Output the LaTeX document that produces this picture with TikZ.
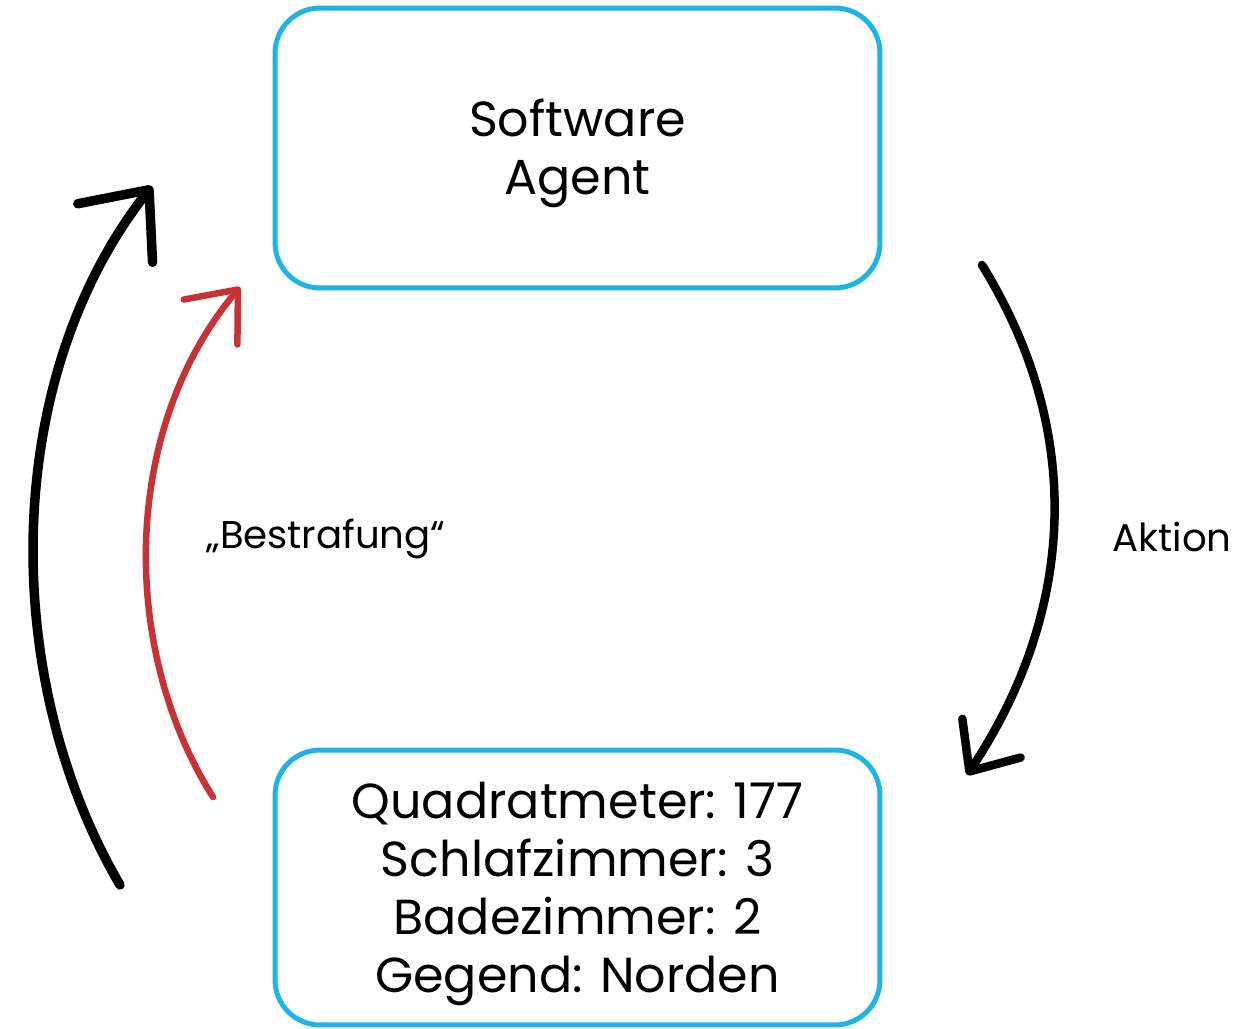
\documentclass[tikz,border=0pt]{standalone}
\usepackage{fontspec}
\setmainfont{Poppins}
\usetikzlibrary{arrows.meta}
\definecolor{boxblue}{RGB}{30,180,230}
\definecolor{penaltyred}{RGB}{200,50,55}
\tikzset{
  box/.style      = {shape=rectangle, rounded corners=0.9cm,
                     draw=boxblue, line width=0.1cm, align=center,
                     minimum width=12.1cm,
                     font=\fontsize{28}{33}\selectfont},
  tag/.style      = {font=\fontsize{22}{26}\selectfont},
  loop/.style     = {line width=0.19cm, line cap=round,
                     -{Straight Barb[length=1.1cm, width=1.9cm, round]}},
  reward/.style   = {loop, draw=penaltyred, line width=0.13cm,
                     -{Straight Barb[length=0.85cm, width=1.4cm, round]}}
}

\begin{document}
\begin{tikzpicture}
  [
    x = 0.02cm,
    y = -0.02cm
  ]
 \useasboundingbox (0,0) rectangle (1237,1028);
 \node [box, minimum height=5.6cm, text depth=1pt] (agent) at (577.5,148) {Software\\Agent};
 \node [box, minimum height=5.5cm, text depth=-11pt] (env) at (577.5,887.5)
   {Quadratmeter: 177\\Schlafzimmer: 3\\Badezimmer: 2\\Gegend: Norden};
 \node [tag] (strafe) at (326,539) {„Bestrafung“};
 \node [tag] (aktion) at (1172,537) {Aktion};
 % free ends of the arrows
 \coordinate (obs-start) at (120,885);
 \coordinate (obs-end)   at (152,186);
 \coordinate (rew-start) at (213,797);
 \coordinate (rew-end)   at (240,287);
 \coordinate (act-start) at (982,265);
 \coordinate (act-end)   at (967,775);
 \draw [loop]   (obs-start) .. controls (0,680) and (0,380) .. (obs-end);
 \draw [reward] (rew-start) .. controls (120,650) and (120,430) .. (rew-end);
 \draw [loop, line width=0.17cm,
        -{Straight Barb[length=0.8cm, width=1.4cm, round]}]
   (act-start) .. controls (1090,440) and (1070,620) .. (act-end);
\end{tikzpicture}
\end{document}
